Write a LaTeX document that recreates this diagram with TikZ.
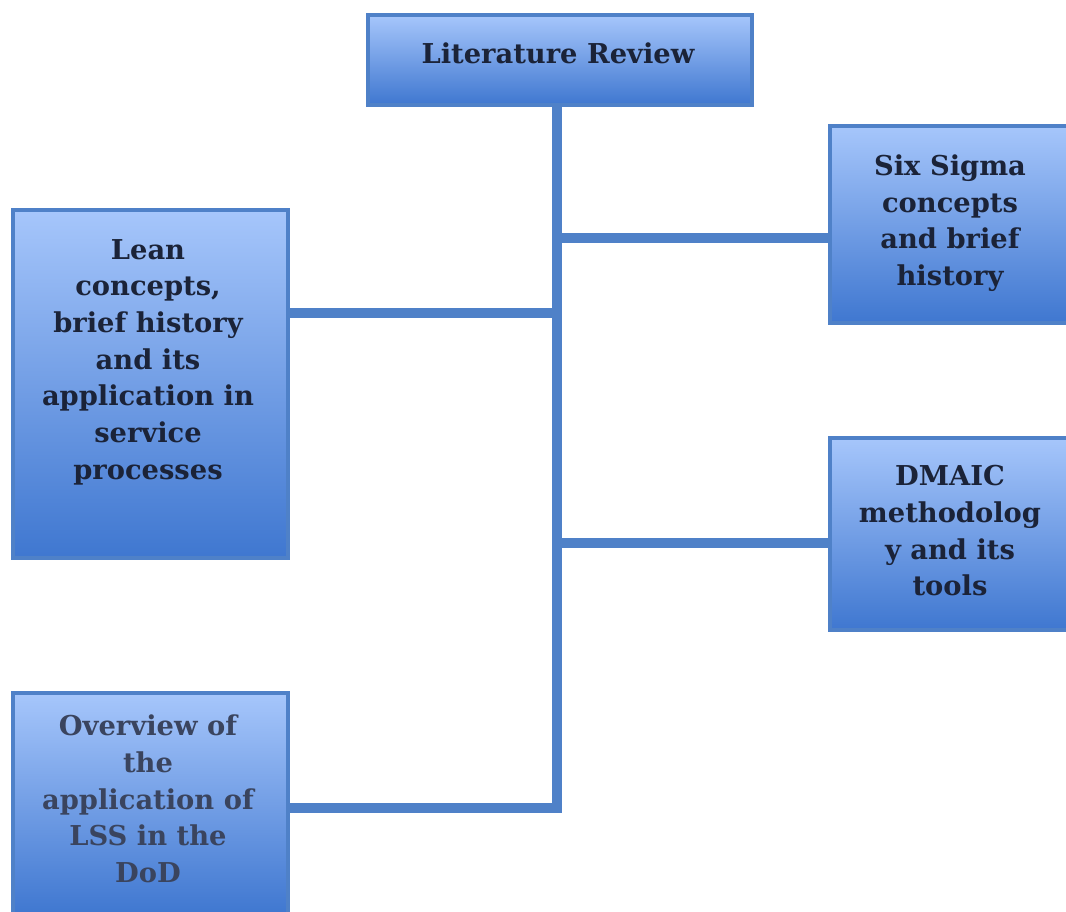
\documentclass[tikz,border=0pt]{standalone}
\usepackage{fontspec}
\setmainfont{DejaVu Serif}
\begin{document}
\definecolor{edge}{HTML}{4F81C8}
\definecolor{topfill}{HTML}{A6C6FB}
\definecolor{botfill}{HTML}{3F77D0}
\definecolor{ink}{HTML}{1B2338}
\definecolor{softink}{HTML}{3A445E}
\begin{tikzpicture}[x=0.75pt,y=-0.75pt,
  box/.style={draw=edge, line width=3pt, top color=topfill, bottom color=botfill,
    inner sep=0pt, anchor=north west},
  lbl/.style={font=\bfseries\fontsize{20.5}{27.5}\selectfont, text=ink, align=center},
  link/.style={draw=edge, line width=7.5pt, line join=miter}]
\useasboundingbox (0,0) rectangle (1066,911);
% boxes
\node[box, minimum width=384*0.75pt, minimum height=90*0.75pt] (lit) at (366,13) {};
\node[box, minimum width=275*0.75pt, minimum height=348*0.75pt] (lean) at (11,208) {};
\node[box, minimum width=240*0.75pt, minimum height=197*0.75pt] (six) at (828,124) {};
\node[box, minimum width=240*0.75pt, minimum height=192*0.75pt] (dmaic) at (828,436) {};
\node[box, minimum width=275*0.75pt, minimum height=222*0.75pt] (ovw) at (11,691) {};
% captions
\node[lbl] (tlit) at (558,53) {Literature Review};
\node[lbl] (tlean) at (148,362) {Lean\\concepts,\\brief history\\and its\\application in\\service\\processes};
\node[lbl] (tsix) at (950,223) {Six Sigma\\concepts\\and brief\\history};
\node[lbl] (tdmaic) at (950,531) {DMAIC\\methodolog\\y and its\\tools};
\node[lbl, text=softink] (tovw) at (148,799) {Overview of\\the\\application of\\LSS in the\\DoD};
% junctions on the trunk
\coordinate (jsix) at (557,238);
\coordinate (jlean) at (557,313);
\coordinate (jdmaic) at (557,543);
\coordinate (jovw) at (557,808);
% connectors
\draw[link] (lit.south -| jsix) -- (jovw) -- (jovw -| ovw.east);
\draw[link] (jsix) -- (jsix -| six.west);
\draw[link] (jlean) -- (jlean -| lean.east);
\draw[link] (jdmaic) -- (jdmaic -| dmaic.west);
\end{tikzpicture}
\end{document}
